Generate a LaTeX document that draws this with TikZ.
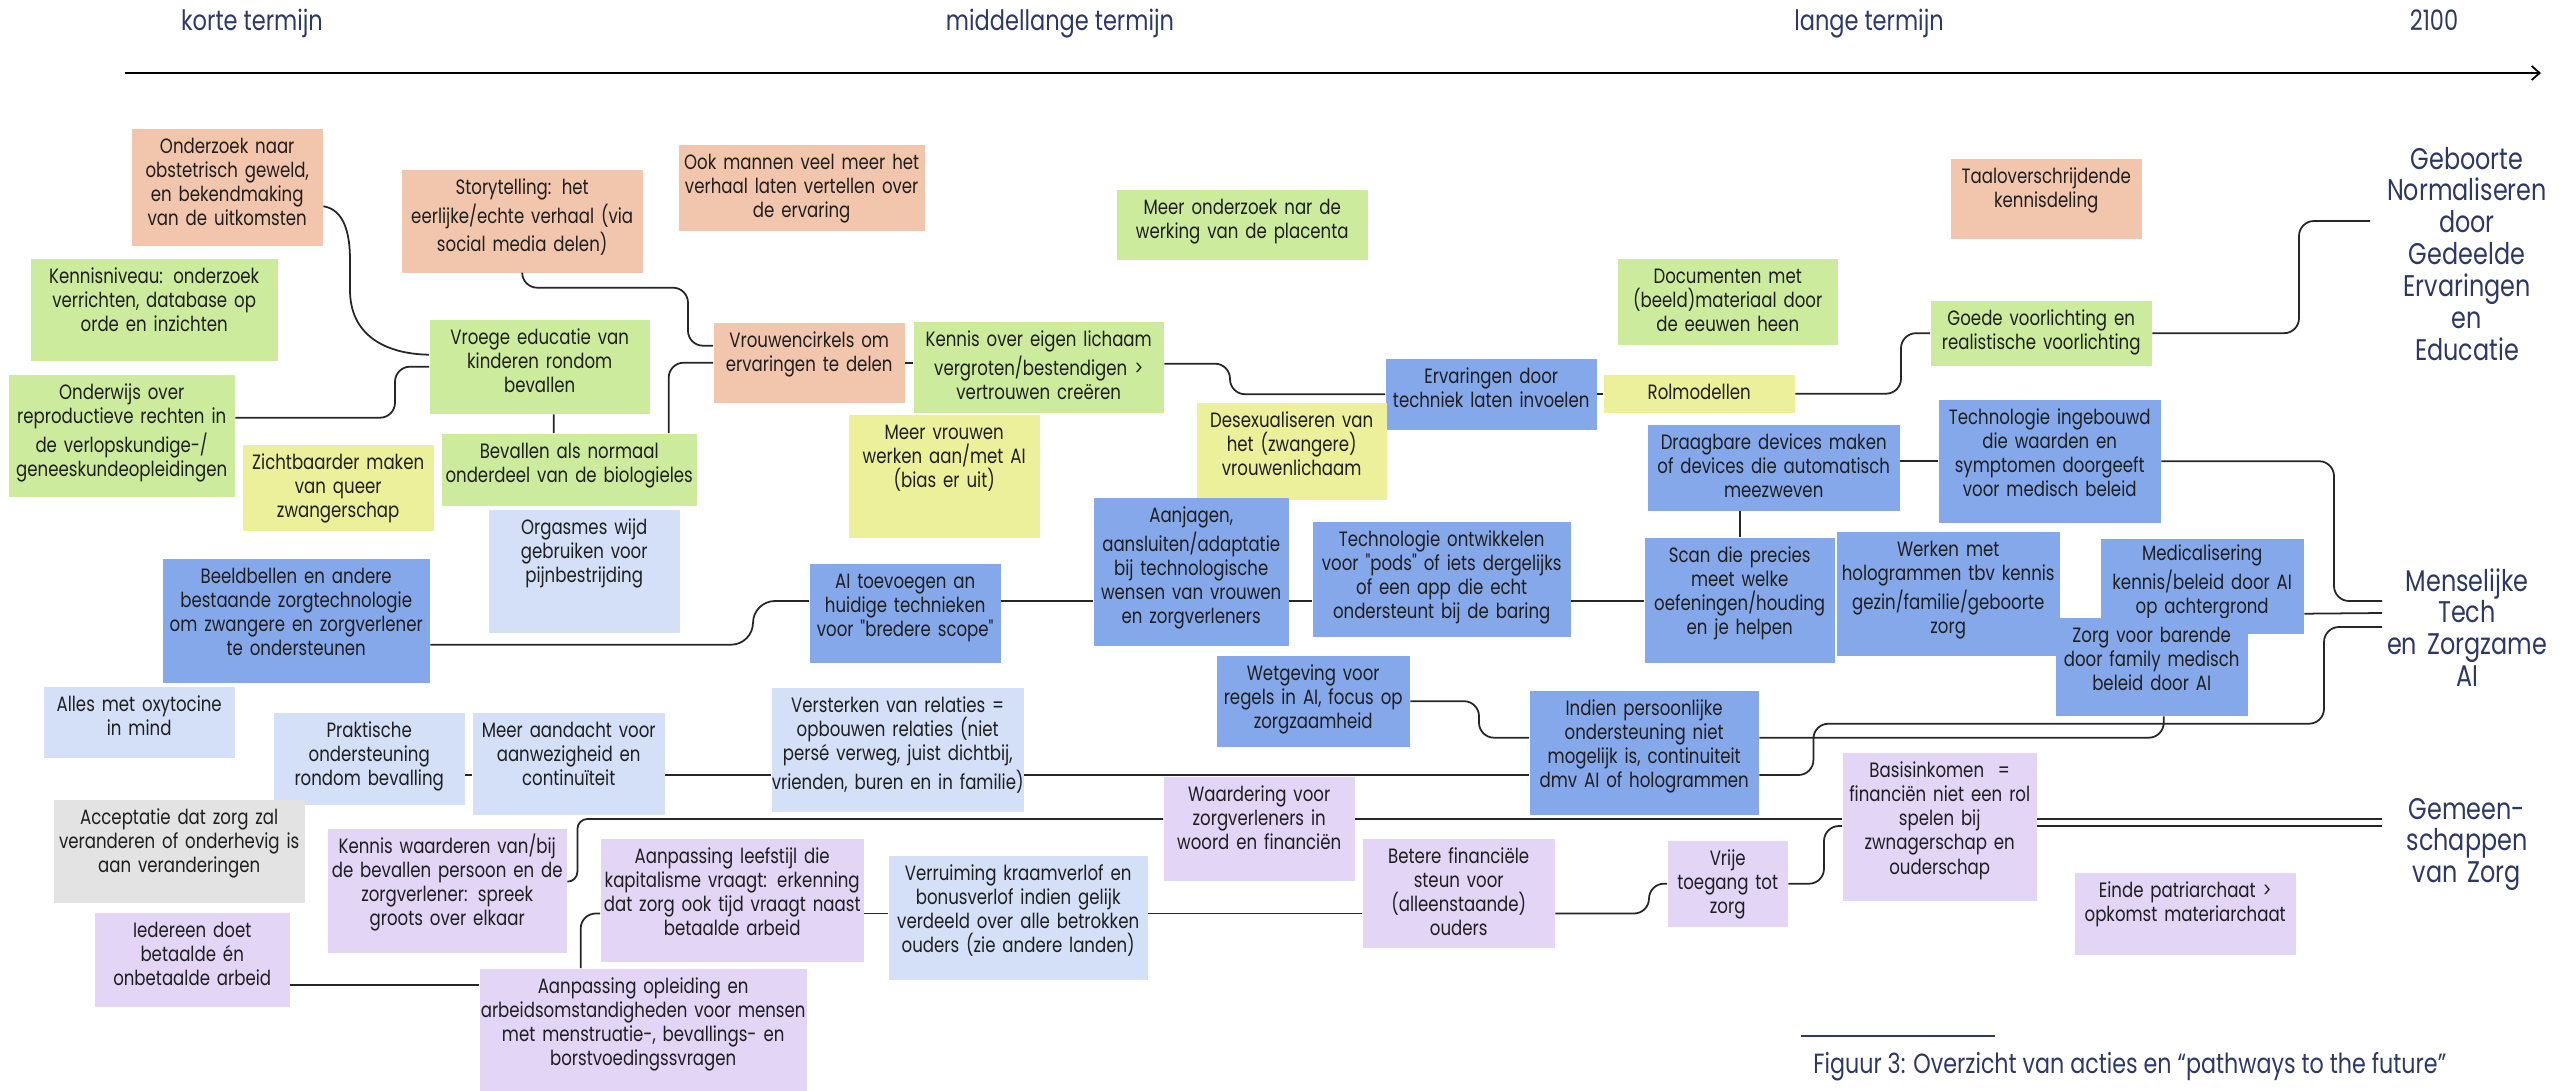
\documentclass[tikz,border=0pt]{standalone}
\usepackage{fontspec}
\setmainfont{Poppins}[FakeStretch=0.8,Ligatures=TeXOff]
\usetikzlibrary{arrows.meta,calc}
\definecolor{peach}{HTML}{F2C6AD}
\definecolor{leaf}{HTML}{CDEB9D}
\definecolor{lemon}{HTML}{ECF09B}
\definecolor{cornflower}{HTML}{85A8EB}
\definecolor{paleblue}{HTML}{D4E0F7}
\definecolor{lilac}{HTML}{E2D5F6}
\definecolor{stone}{HTML}{E3E3E3}
\definecolor{navy}{HTML}{2D3865}
\definecolor{ink}{HTML}{1F1F1F}
\definecolor{wire}{HTML}{262626}
\tikzset{
  term/.style={font=\fontsize{8}{9.6}\selectfont,text=navy,anchor=base},
  goal/.style={font=\fontsize{8.5}{9.1}\selectfont,text=navy,text width=2.6cm,align=center,anchor=base},
  caption/.style={font=\fontsize{7.9}{9}\selectfont,text=navy,anchor=base west},
  note/.style n args={2}{inner xsep=-0.1cm,inner ysep=0pt,anchor=north west,text width=#1cm+0.2cm,text height=0.25cm,text depth=#2cm-0.25cm,align=center,font=\fontsize{5.9}{6.85}\selectfont,text=ink},
  link/.style={draw=wire,line width=0.5pt,rounded corners=0.15cm},
  axis/.style={-{Straight Barb[length=0.8mm,width=1.4mm]},draw=black,line width=0.5pt},
  rule/.style={draw=navy,line width=0.5pt}
}
\begin{document}
\begin{tikzpicture}[x=1cm,y=1cm]
\path[use as bounding box,fill=white] (0,0) rectangle (25.74,10.9);
% tijdlijn
\node[term] (kort) at (2.52,10.60) {korte termijn};
\node[term] (middel) at (10.60,10.60) {middellange termijn};
\node[term] (lang) at (18.69,10.60) {lange termijn};
\node[term] (eind) at (24.34,10.60) {2100};
\draw[axis] (1.25,10.17)--(25.41,10.17);
% bovenste rij
\node[note={1.91}{1.17},fill=peach] (onderzoek) at (1.31,9.62) {Onderzoek naar\\obstetrisch geweld,\\en bekendmaking\\van de uitkomsten};
\node[note={2.41}{1.03},fill=peach] (story) at (4.01,9.21) {Storytelling: het\\eerlijke/echte verhaal (via\\social media delen)};
\node[note={2.46}{0.86},fill=peach] (mannen) at (6.78,9.46) {Ook mannen veel meer het\\verhaal laten vertellen over\\de ervaring};
\node[note={2.51}{0.70},fill=leaf] (placenta) at (11.16,9.01) {Meer onderzoek nar de\\werking van de placenta};
\node[note={1.91}{0.80},fill=peach] (taal) at (19.50,9.32) {Taaloverschrijdende\\kennisdeling};
\node[note={2.47}{1.02},fill=leaf] (kennisniveau) at (0.30,8.32) {Kennisniveau: onderzoek\\verrichten, database op\\orde en inzichten};
\node[note={2.26}{1.22},fill=leaf] (onderwijs) at (0.08,7.16) {Onderwijs over\\reproductieve rechten in\\de verlopskundige-/\\geneeskundeopleidingen};
\node[note={2.20}{0.94},fill=leaf] (vroege) at (4.29,7.71) {Vroege educatie van\\kinderen rondom\\bevallen};
\node[note={1.91}{0.80},fill=peach] (cirkels) at (7.13,7.68) {Vrouwencirkels om\\ervaringen te delen};
\node[note={2.50}{0.91},fill=leaf] (lichaam) at (9.13,7.69) {Kennis over eigen lichaam\\vergroten/bestendigen >\\vertrouwen creëren};
\node[note={2.20}{0.86},fill=leaf] (documenten) at (16.17,8.32) {Documenten met\\(beeld)materiaal door\\de eeuwen heen};
\node[note={2.11}{0.71},fill=cornflower] (invoelen) at (13.85,7.32) {Ervaringen door\\techniek laten invoelen};
\node[note={1.91}{0.38},fill=lemon] (rolmodellen) at (16.03,7.16) {Rolmodellen};
\node[note={2.21}{0.65},fill=leaf] (voorlichting) at (19.30,7.90) {Goede voorlichting en\\realistische voorlichting};
\node[note={1.91}{0.86},fill=lemon] (queer) at (2.42,6.46) {Zichtbaarder maken\\van queer\\zwangerschap};
\node[note={2.55}{0.72},fill=leaf] (biologie) at (4.41,6.57) {Bevallen als normaal\\onderdeel van de biologieles};
\node[note={1.91}{1.23},fill=paleblue] (orgasmes) at (4.88,5.81) {Orgasmes wijd\\gebruiken voor\\pijnbestrijding};
\node[note={1.91}{1.23},fill=lemon] (vrouwenai) at (8.48,6.76) {Meer vrouwen\\werken aan/met AI\\(bias er uit)};
\node[note={1.90}{0.97},fill=lemon] (desex) at (11.96,6.88) {Desexualiseren van\\het (zwangere)\\vrouwenlichaam};
% technologie
\node[note={2.52}{0.86},fill=cornflower] (draagbaar) at (16.47,6.66) {Draagbare devices maken\\of devices die automatisch\\meezweven};
\node[note={2.22}{1.23},fill=cornflower] (ingebouwd) at (19.38,6.91) {Technologie ingebouwd\\die waarden en\\symptomen doorgeeft\\voor medisch beleid};
\node[note={1.95}{1.48},fill=cornflower] (aanjagen) at (10.93,5.93) {Aanjagen,\\aansluiten/adaptatie\\bij technologische\\wensen van vrouwen\\en zorgverleners};
\node[note={2.58}{1.15},fill=cornflower] (pods) at (13.12,5.69) {Technologie ontwikkelen\\voor "pods" of iets dergelijks\\of een app die echt\\ondersteunt bij de baring};
\node[note={1.90}{1.25},fill=cornflower] (scan) at (16.44,5.53) {Scan die precies\\meet welke\\oefeningen/houding\\en je helpen};
\node[note={2.23}{1.24},fill=cornflower] (holo) at (18.36,5.59) {Werken met\\hologrammen tbv kennis\\gezin/familie/geboorte\\zorg};
\node[note={2.03}{0.95},fill=cornflower,text height=0.22cm,text depth=0.73cm] (medisch) at (21.00,5.52) {Medicalisering\\kennis/beleid door AI\\op achtergrond};
\node[note={1.92}{0.98},fill=cornflower] (barende) at (20.55,4.73) {Zorg voor barende\\door family medisch\\beleid door AI};
\node[note={2.67}{1.24},fill=cornflower] (beeldbellen) at (1.62,5.32) {Beeldbellen en andere\\bestaande zorgtechnologie\\om zwangere en zorgverlener\\te ondersteunen};
\node[note={1.91}{0.99},fill=cornflower] (aitoev) at (8.09,5.27) {AI toevoegen an\\huidige technieken\\voor "bredere scope"};
\node[note={1.93}{0.91},fill=cornflower] (wetgeving) at (12.16,4.35) {Wetgeving voor\\regels in AI, focus op\\zorgzaamheid};
\node[note={2.29}{1.24},fill=cornflower] (indien) at (15.29,4.00) {Indien persoonlijke\\ondersteuning niet\\mogelijk is, continuiteit\\dmv AI of hologrammen};
% zorg
\node[note={1.91}{0.71},fill=paleblue] (oxytocine) at (0.43,4.04) {Alles met oxytocine\\in mind};
\node[note={1.91}{0.92},fill=paleblue] (praktisch) at (2.73,3.78) {Praktische\\ondersteuning\\rondom bevalling};
\node[note={1.92}{1.02},fill=paleblue] (aandacht) at (4.72,3.78) {Meer aandacht voor\\aanwezigheid en\\continuïteit};
\node[note={2.52}{1.24},fill=paleblue] (relaties) at (7.71,4.03) {Versterken van relaties =\\opbouwen relaties (niet\\persé verweg, juist dichtbij,\\vrienden, buren en in familie)};
\node[note={2.51}{1.03},fill=stone] (acceptatie) at (0.53,2.91) {Acceptatie dat zorg zal\\veranderen of onderhevig is\\aan veranderingen};
\node[note={2.39}{1.24},fill=lilac] (waarderen) at (3.27,2.62) {Kennis waarderen van/bij\\de bevallen persoon en de\\zorgverlener: spreek\\groots over elkaar};
\node[note={1.91}{1.04},fill=lilac] (waardering) at (11.63,3.14) {Waardering voor\\zorgverleners in\\woord en financiën};
\node[note={2.63}{1.23},fill=lilac] (leefstijl) at (6.00,2.52) {Aanpassing leefstijl die\\kapitalisme vraagt: erkenning\\dat zorg ook tijd vraagt naast\\betaalde arbeid};
\node[note={2.59}{1.24},fill=paleblue] (kraamverlof) at (8.88,2.35) {Verruiming kraamverlof en\\bonusverlof indien gelijk\\verdeeld over alle betrokken\\ouders (zie andere landen)};
\node[note={1.92}{1.09},fill=lilac] (steun) at (13.62,2.52) {Betere financiële\\steun voor\\(alleenstaande)\\ouders};
\node[note={1.20}{0.86},fill=lilac] (toegang) at (16.67,2.50) {Vrije\\toegang tot\\zorg};
\node[note={1.94}{1.48},fill=lilac] (basisinkomen) at (18.42,3.38) {Basisinkomen\ \ =\\financiën niet een rol\\spelen bij\\zwnagerschap en\\ouderschap};
\node[note={2.21}{0.82},fill=lilac] (patriarchaat) at (20.74,2.18) {Einde patriarchaat >\\opkomst materiarchaat};
\node[note={1.95}{0.94},fill=lilac] (iedereen) at (0.94,1.78) {Iedereen doet\\betaalde én\\onbetaalde arbeid};
\node[note={3.27}{1.22},fill=lilac] (opleiding) at (4.79,1.22) {Aanpassing opleiding en\\arbeidsomstandigheden voor mensen\\met menstruatie-, bevallings- en\\borstvoedingssvragen};
% pathways
\node[goal] (geboorte) at (24.67,9.21) {Geboorte\\Normaliseren\\door\\Gedeelde\\Ervaringen\\en\\Educatie};
\node[goal] (menselijk) at (24.67,4.99) {Menselijke\\Tech\\en Zorgzame\\AI};
\node[goal] (gemeenschap) at (24.67,2.71) {Gemeen-\\schappen\\van Zorg};
\coordinate (gebIn) at (23.70,8.69);
\coordinate (mensA) at (23.82,4.89);
\coordinate (mensB) at (23.82,4.77);
\coordinate (mensC) at (23.82,4.63);
\coordinate (gemA) at (23.82,2.71);
\coordinate (gemB) at (23.82,2.64);
\coordinate (rijA) at (0,4.89);
\coordinate (rijB) at (0,3.15);
\coordinate (rijC) at (0,2.71);
\coordinate (rijD) at (0,2.64);
\coordinate (rijE) at (0,1.05);
\coordinate (rijF) at (0,1.765);
% verbindingen
\draw[link,sharp corners] ($(onderzoek.east)+(0,-0.19)$) .. controls (3.45,8.80) and (3.50,8.55) .. (3.50,8.30) -- (3.50,8.00) .. controls (3.50,7.55) and (3.85,7.36) .. ($(vroege.west)+(0,0.12)$);
\draw[link] ($(onderwijs.east)+(0,0.18)$) -| ($(vroege.west)+(-0.34,0)$) -- (vroege.west);
\draw[link] (story.south) |- ($(cirkels.west)+(-0.25,0.75)$) |- ($(cirkels.west)+(0,0.17)$);
\draw[link] (cirkels.east) -- (cirkels.east -| lichaam.west);
\draw[link] ($(biologie.north)+(0.995,0)$) |- (cirkels.west);
\draw[link] ($(vroege.south)+(0.14,0)$) -- ($(biologie.north)+(-0.155,0)$);
\draw[link] ($(lichaam.east)+(0,0.035)$) -| ($(invoelen.west)+(-1.55,0)$) -- (invoelen.west);
\draw[link] (invoelen.east) -- (invoelen.east -| rolmodellen.west);
\draw[link] (rolmodellen.east) -| ($(voorlichting.west)+(-0.29,0)$) -- (voorlichting.west);
\draw[link] (voorlichting.east) -| ($(gebIn)+(-0.71,0)$) -- (gebIn);
\draw[link] (ingebouwd.west -| draagbaar.east) -- (ingebouwd.west);
\draw[link] (draagbaar.south -| scan.north) -- (scan.north);
\draw[link] (ingebouwd.east) -| ($(mensA)+(-0.48,0)$) -- (mensA);
\draw[link] ($(medisch.east)+(0,-0.275)$) -- (mensB);
\draw[link] (indien.east |- rijB) -| ($(indien.east)+(0.54,0.29)$) -| ($(mensC)+(-0.58,0)$) -- (mensC);
\draw[link] ($(indien.east)+(0,0.15)$) -| ($(barende.south)+(0.12,0)$);
\draw[link] (wetgeving.east) -| ($(indien.west)+(-0.5,0.15)$) -- ($(indien.west)+(0,0.15)$);
\draw[link,rounded corners=0.22cm] ($(beeldbellen.east)+(0,-0.24)$) -| ($(aitoev.west |- rijA)+(-0.56,0)$) -- (aitoev.west |- rijA);
\draw[link] (aitoev.east |- rijA) -- (aanjagen.west |- rijA);
\draw[link] (aanjagen.east |- rijA) -- (pods.west |- rijA);
\draw[link] (pods.east |- rijA) -- (scan.west |- rijA);
\draw[link] (praktisch.east |- rijB) -- (aandacht.west |- rijB);
\draw[link] (aandacht.east |- rijB) -- (relaties.west |- rijB);
\draw[link] (relaties.east |- rijB) -- (indien.west |- rijB);
\draw[link,rounded corners=0.1cm] ($(waarderen.east)+(0,0.09)$) -| ($(waarderen.east |- rijC)+(0.1,0)$) -- (waardering.west |- rijC);
\draw[link] (waardering.east |- rijC) -- (basisinkomen.west |- rijC);
\draw[link] (basisinkomen.east |- rijC) -- (gemA);
\draw[link] (basisinkomen.east |- rijD) -- (gemB);
\draw[link] (iedereen.east |- rijE) -- (opleiding.west |- rijE);
\draw[link] ($(opleiding.north)+(-0.625,0)$) |- (leefstijl.west |- rijF);
\draw[link] (leefstijl.east |- rijF) -- (kraamverlof.west |- rijF);
\draw[link] (kraamverlof.east |- rijF) -- (steun.west |- rijF);
\draw[link] (steun.east |- rijF) -| ($(toegang.west)+(-0.18,0)$) -- (toegang.west);
\draw[link] (toegang.east) -| ($(basisinkomen.west |- rijD)+(-0.18,0)$) -- (basisinkomen.west |- rijD);
% onderschrift
\node[caption] (figuur) at (18.01,0.17) {Figuur 3: Overzicht van acties en “pathways to the future”};
\draw[rule] ($(figuur.base west)+(0,0.37)$) -- ++(1.94,0);
\end{tikzpicture}
\end{document}
